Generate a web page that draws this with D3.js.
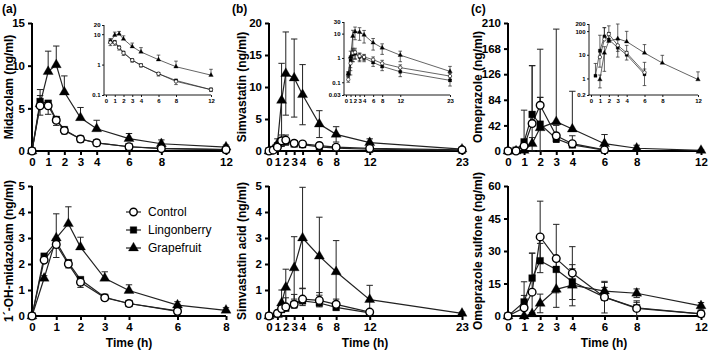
<!DOCTYPE html>
<html>
<head>
<meta charset="utf-8">
<script src="https://cdn.jsdelivr.net/npm/d3@7"></script>
<style>
  body { margin: 0; background: #fff; }
  svg { font-family: "Liberation Sans", Arial, sans-serif; }
</style>
</head>
<body>
<div id="chart"></div>
<script>
// ---- data (mean and SD) ----
const groups = ["Control", "Lingonberry", "Grapefruit"];

// (a) midazolam
const midTime = [0, 0.5, 1, 1.5, 2, 3, 4, 6, 8, 12];
const midCtrl = [0, 5.3, 5.3, 3.6, 2.4, 1.4, 0.95, 0.5, 0.28, 0.15];
const midCtrlSd = [0, 1.1, 1.0, 0.6, 0.4, 0.2, 0.12, 0.08, 0.06, 0.02];
const midLing = [0, 5.8, 5.6, 3.7, 2.5, 1.4, 0.95, 0.5, 0.3, 0.15];
const midLingSd = [0, 1.4, 0.3, 0.3, 0.2, 0.1, 0.1, 0.05, 0.03, 0.02];
const midGrape = [0, 5.5, 9.3, 10.1, 6.9, 3.9, 2.6, 1.45, 0.85, 0.45];
const midGrapeSd = [0, 1.0, 2.4, 2.2, 1.9, 1.2, 1.0, 0.6, 0.45, 0.25];

// (a) 1'-OH-midazolam
const ohTime = [0, 0.5, 1, 1.5, 2, 3, 4, 6, 8];
const ohCtrl = [0, 2.15, 2.75, 2.0, 1.3, 0.7, 0.48, 0.18, null];
const ohCtrlSd = [0, 0.1, 0.5, 0.15, 0.2, 0.05, 0.05, 0.05, null];
const ohLing = [0, 2.3, 2.85, 2.05, 1.4, 0.72, 0.48, 0.2, null];
const ohLingSd = [0, 0.05, 0.1, 0.1, 0.05, 0.05, 0.03, 0.03, null];
const ohGrape = [0, 1.45, 3.0, 3.55, 2.65, 1.45, 0.98, 0.42, 0.22];
const ohGrapeSd = [0, 0.1, 0.93, 0.65, 0.38, 0.25, 0.22, 0.13, 0.1];

// (b) simvastatin
const simTime = [0, 0.5, 1, 1.5, 2, 3, 4, 6, 8, 12, 23];
const simCtrl = [0, 0.13, 0.6, 1.6, 1.7, 1.2, 1.1, 0.85, 0.6, 0.4, 0.18];
const simCtrlSd = [0, 0.03, 0.4, 0.9, 0.8, 0.4, 0.3, 0.25, 0.2, 0.12, 0.05];
const simLing = [0, 0.22, 0.8, 1.4, 1.5, 1.1, 1.0, 0.65, 0.45, 0.27, 0.12];
const simLingSd = [0, 0.05, 0.4, 0.7, 0.6, 0.4, 0.3, 0.2, 0.15, 0.1, 0.05];
const simGrape = [0, 0.22, 1.1, 7.9, 12.1, 11.4, 8.8, 4.2, 2.6, 1.3, 0.28];
const simGrapeSd = [0, 0.05, 0.8, 5.8, 6.5, 6.1, 4.7, 2.1, 1.2, 0.6, 0.17];

// (b) simvastatin acid
const saTime = [0, 1, 1.5, 2, 3, 4, 6, 8, 12, 23];
const saCtrl = [0, 0.1, 0.28, 0.35, 0.45, 0.65, 0.6, 0.45, 0.15, null];
const saCtrlSd = [0, 0.05, 0.15, 0.35, 0.38, 0.42, 0.3, 0.2, 0.1, null];
const saLing = [0, 0.1, 0.25, 0.3, 0.45, 0.58, 0.5, 0.33, 0.12, null];
const saLingSd = [0, 0.05, 0.1, 0.1, 0.15, 0.18, 0.15, 0.1, 0.05, null];
const saGrape = [0, 0.05, 0.5, 1.1, 1.85, 3.0, 2.3, 1.7, 0.63, 0.1];
const saGrapeSd = [0, 0.03, 0.5, 0.7, 1.2, 1.95, 1.5, 1.2, 0.55, 0.05];

// (c) omeprazole
const omeTime = [0, 0.5, 1, 1.5, 2, 3, 4, 6, 8, 12];
const omeCtrl = [0, 0, 8, 45, 75, 25, 12, 1.8, null, null];
const omeCtrlSd = [0, 0, 5, 95, 92, 17, 13, 3, null, null];
const omeLing = [0, 1.3, 15, 60, 44, 20, 10, 1.5, null, null];
const omeLingSd = [0, 3, 52, 80, 44, 6, 4, 1, null, null];
const omeGrape = [0, 0, 0.9, 12, 38, 48, 36, 12, 4.5, 0.9];
const omeGrapeSd = [0, 0, 0.5, 10, 50, 152, 62, 15, 5, 1];

// (c) omeprazole sulfone
const osTime = [0, 1, 1.5, 2, 3, 4, 6, 8, 12];
const osCtrl = [0, 3.8, 11, 36.5, 26.5, 19.8, 8.7, 3.5, 1.0];
const osCtrlSd = [0, 12, 18, 16.5, 15.8, 12.2, 7.3, 3.5, 1];
const osLing = [0, 6.5, 17.5, 25.5, 21.5, 15.8, 8.7, 3.8, 1.0];
const osLingSd = [0, 3, 11.5, 8, 6, 6, 4.5, 2.5, 0.8];
const osGrape = [0, 0, 1, 5.8, 12.3, 14.2, 11.5, 10.5, 4.7];
const osGrapeSd = [0, 0, 0.5, 4.3, 8.3, 9.5, 4, 2, 1.5];

// tick labels
const xTicks12 = [0, 1, 2, 3, 4, 6, 8, 12];
const xTicks8 = [0, 1, 2, 3, 4, 6, 8];
const xTicks23 = [0, 1, 2, 3, 4, 6, 8, 12, 23];

const W = 709, H = 352;
const svg = d3.select("#chart").append("svg")
  .attr("width", W).attr("height", H);

function mk(time, v, sd) {
  return time.map((t, i) => ({ t: t, v: v[i], sd: sd[i] })).filter(d => d.v != null);
}

function shapeOf(name) {
  if (name === "Control") return d3.symbolCircle;
  if (name === "Lingonberry") return d3.symbolSquare;
  return d3.symbolTriangle;
}

// draws one plot (main or inset)
function plot(o) {
  const g = svg.append("g");
  const x = d3.scaleLinear().domain(o.xDomain).range([o.x0, o.x1]);
  const y = (o.log ? d3.scaleLog() : d3.scaleLinear()).domain(o.yDomain).range([o.y0, o.y1]);
  const s = o.inset ? 0.45 : 1;
  const aw = o.inset ? 0.9 : 2;

  const xAxis = d3.axisBottom(x).tickValues(o.xTicks).tickFormat(d3.format("d"))
    .tickSize(o.inset ? 2 : 4).tickPadding(o.inset ? 1.5 : 3);
  const yAxis = d3.axisLeft(y).tickValues(o.yTicks)
    .tickFormat(o.yFormat || d3.format("d"))
    .tickSize(o.inset ? 2 : 4).tickPadding(o.inset ? 1.5 : 3);

  const yMin = y.range()[0];
  const gx = g.append("g").attr("transform", `translate(0,${yMin})`).call(xAxis);
  const gy = g.append("g").attr("transform", `translate(${o.yAxisX},0)`).call(yAxis);
  [gx, gy].forEach(a => {
    a.select(".domain").remove();
    a.selectAll(".tick line").attr("stroke", "#000").attr("stroke-width", aw);
    a.selectAll(".tick text").attr("fill", "#000")
      .style("font-size", (o.inset ? 6 : 11.5) + "px").style("font-weight", "bold");
  });
  g.append("line").attr("x1", o.yAxisX - aw / 2).attr("x2", x.range()[1])
    .attr("y1", yMin).attr("y2", yMin)
    .attr("stroke", "#000").attr("stroke-width", aw);
  g.append("line").attr("x1", o.yAxisX).attr("x2", o.yAxisX)
    .attr("y1", yMin).attr("y2", o.y1)
    .attr("stroke", "#000").attr("stroke-width", aw);

  const ok = d => !o.log || d.v > 0;
  const capW = o.inset ? 1.8 : 3.2;

  o.series.forEach(sr => {
    const pts = sr.data.filter(ok);
    // error bars
    pts.forEach(d => {
      if (!d.sd) return;
      const ends = [];
      if (sr.dir === "up" || sr.dir === "both") ends.push(d.v + d.sd);
      if (sr.dir === "down" || sr.dir === "both") ends.push(d.v - d.sd);
      ends.forEach(e => {
        let ee = e;
        if (o.log && ee <= 0) return;
        if (!o.log && ee < o.yDomain[0]) ee = o.yDomain[0];
        if (ee > o.yDomain[1]) ee = o.yDomain[1];
        g.append("line").attr("x1", x(d.t)).attr("x2", x(d.t))
          .attr("y1", y(d.v)).attr("y2", y(ee))
          .attr("stroke", "#222").attr("stroke-width", o.inset ? 0.7 : 1);
        g.append("line").attr("x1", x(d.t) - capW).attr("x2", x(d.t) + capW)
          .attr("y1", y(ee)).attr("y2", y(ee))
          .attr("stroke", "#222").attr("stroke-width", o.inset ? 0.7 : 1);
      });
    });
  });

  o.series.forEach(sr => {
    const pts = sr.data.filter(ok);
    g.append("path").datum(pts)
      .attr("fill", "none").attr("stroke", "#222").attr("stroke-width", o.inset ? 0.7 : 1.2)
      .attr("d", d3.line().x(d => x(d.t)).y(d => y(d.v)));
  });

  o.series.forEach(sr => {
    const pts = sr.data.filter(ok);
    const isC = sr.name === "Control";
    const size = sr.name === "Lingonberry" ? 46 : (isC ? 46 : 44);
    g.selectAll(null).data(pts).enter().append("path")
      .attr("transform", d => `translate(${x(d.t)},${y(d.v)})`)
      .attr("d", d3.symbol().type(shapeOf(sr.name)).size(size * s * s))
      .attr("fill", isC ? "#fff" : "#000")
      .attr("stroke", "#000").attr("stroke-width", isC ? (o.inset ? 0.6 : 1.4) : 0.3);
  });
}

function yTitle(txt, xPos, yMid) {
  svg.append("text").attr("transform", `translate(${xPos},${yMid}) rotate(-90)`)
    .attr("text-anchor", "middle").style("font-size", "12px").style("font-weight", "bold")
    .text(txt);
}

function series(c, l, gr, dirs) {
  return [
    { name: "Grapefruit", data: gr, dir: dirs[2] },
    { name: "Lingonberry", data: l, dir: dirs[1] },
    { name: "Control", data: c, dir: dirs[0] }
  ];
}

const TOP = [151, 23], BOT = [316, 186];
const fmtLog = d => String(d);

// ---- (a) ----
plot({ x0: 32, x1: 226, yAxisX: 32, y0: TOP[0], y1: TOP[1], xDomain: [0, 12], yDomain: [0, 15],
  xTicks: xTicks12, yTicks: [0, 5, 10, 15],
  series: series(mk(midTime, midCtrl, midCtrlSd), mk(midTime, midLing, midLingSd), mk(midTime, midGrape, midGrapeSd), ["down", "up", "up"]) });
plot({ inset: true, log: true, x0: 106, x1: 211, yAxisX: 104, y0: 95, y1: 25, xDomain: [0, 12], yDomain: [0.1, 20],
  xTicks: xTicks12, yTicks: [0.1, 1, 10, 20], yFormat: fmtLog,
  series: series(mk(midTime, midCtrl, midCtrlSd), mk(midTime, midLing, midLingSd), mk(midTime, midGrape, midGrapeSd), ["down", "up", "up"]) });
plot({ x0: 32, x1: 226, yAxisX: 32, y0: BOT[0], y1: BOT[1], xDomain: [0, 8], yDomain: [0, 5],
  xTicks: xTicks8, yTicks: [0, 1, 2, 3, 4, 5],
  series: series(mk(ohTime, ohCtrl, ohCtrlSd), mk(ohTime, ohLing, ohLingSd), mk(ohTime, ohGrape, ohGrapeSd), ["down", "up", "up"]) });

// ---- (b) ----
plot({ x0: 269, x1: 462, yAxisX: 269, y0: TOP[0], y1: TOP[1], xDomain: [0, 23], yDomain: [0, 20],
  xTicks: xTicks23, yTicks: [0, 5, 10, 15, 20],
  series: series(mk(simTime, simCtrl, simCtrlSd), mk(simTime, simLing, simLingSd), mk(simTime, simGrape, simGrapeSd), ["up", "down", "both"]) });
plot({ inset: true, log: true, x0: 346, x1: 450, yAxisX: 344, y0: 95, y1: 22, xDomain: [0, 23], yDomain: [0.03, 30],
  xTicks: xTicks23, yTicks: [0.03, 0.1, 1, 10, 30], yFormat: fmtLog,
  series: series(mk(simTime, simCtrl, simCtrlSd), mk(simTime, simLing, simLingSd), mk(simTime, simGrape, simGrapeSd), ["both", "both", "both"]) });
plot({ x0: 269, x1: 462, yAxisX: 269, y0: BOT[0], y1: BOT[1], xDomain: [0, 23], yDomain: [0, 5],
  xTicks: xTicks23, yTicks: [0, 1, 2, 3, 4, 5],
  series: series(mk(saTime, saCtrl, saCtrlSd), mk(saTime, saLing, saLingSd), mk(saTime, saGrape, saGrapeSd), ["up", "down", "both"]) });

// ---- (c) ----
plot({ x0: 508, x1: 701, yAxisX: 508, y0: TOP[0], y1: TOP[1], xDomain: [0, 12], yDomain: [0, 210],
  xTicks: xTicks12, yTicks: [0, 42, 84, 126, 168, 210],
  series: series(mk(omeTime, omeCtrl, omeCtrlSd), mk(omeTime, omeLing, omeLingSd), mk(omeTime, omeGrape, omeGrapeSd), ["up", "both", "up"]) });
plot({ inset: true, log: true, x0: 591, x1: 698, yAxisX: 589, y0: 95, y1: 24, xDomain: [0, 12], yDomain: [0.2, 200],
  xTicks: xTicks12, yTicks: [0.2, 1, 10, 100, 200], yFormat: fmtLog,
  series: series(mk(omeTime, omeCtrl, omeCtrlSd), mk(omeTime, omeLing, omeLingSd), mk(omeTime, omeGrape, omeGrapeSd), ["both", "both", "both"]) });
plot({ x0: 508, x1: 701, yAxisX: 508, y0: BOT[0], y1: BOT[1], xDomain: [0, 12], yDomain: [0, 60],
  xTicks: xTicks12, yTicks: [0, 15, 30, 45, 60],
  series: series(mk(osTime, osCtrl, osCtrlSd), mk(osTime, osLing, osLingSd), mk(osTime, osGrape, osGrapeSd), ["both", "up", "both"]) });

// axis titles
yTitle("Midazolam (ng/ml)", 13, 87);
yTitle("1´-OH-midazolam (ng/ml)", 13, 251);
yTitle("Simvastatin (ng/ml)", 246, 87);
yTitle("Simvastatin acid (ng/ml)", 246, 251);
yTitle("Omeprazole (ng/ml)", 482, 87);
yTitle("Omeprazole sulfone (ng/ml)", 482, 251);

[129, 365, 604].forEach(cx => {
  svg.append("text").attr("x", cx).attr("y", 347).attr("text-anchor", "middle")
    .style("font-size", "12px").style("font-weight", "bold").text("Time (h)");
});

[["(a)", 2], ["(b)", 232], ["(c)", 471]].forEach(p => {
  svg.append("text").attr("x", p[1]).attr("y", 13)
    .style("font-size", "12px").style("font-weight", "bold").text(p[0]);
});

// legend
const leg = svg.append("g").attr("transform", "translate(126,212)");
groups.forEach((name, i) => {
  const ly = i * 18;
  leg.append("line").attr("x1", 0).attr("x2", 15).attr("y1", ly).attr("y2", ly)
    .attr("stroke", "#222").attr("stroke-width", 1.2);
  leg.append("path").attr("transform", `translate(7.5,${ly})`)
    .attr("d", d3.symbol().type(shapeOf(name)).size(44))
    .attr("fill", name === "Control" ? "#fff" : "#000")
    .attr("stroke", "#000").attr("stroke-width", name === "Control" ? 1.4 : 0.3);
  leg.append("text").attr("x", 22).attr("y", ly + 4)
    .style("font-size", "12px").text(name);
});
</script>
</body>
</html>
